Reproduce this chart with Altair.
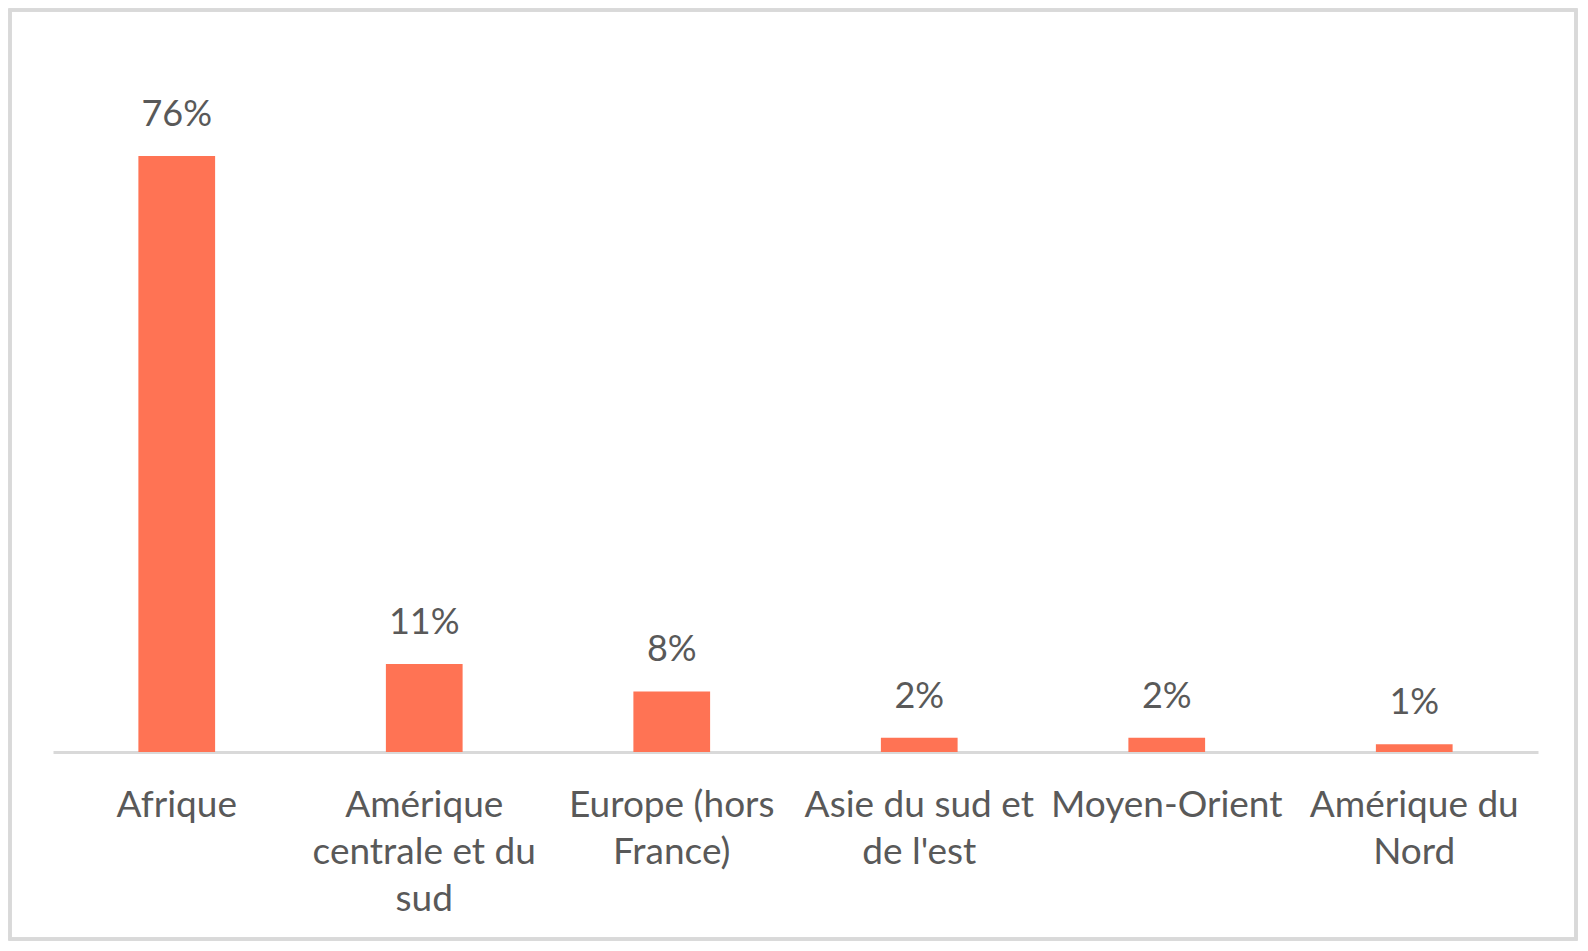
import altair as alt
import pandas as pd

categories = ["Afrique", "Amérique centrale et du sud", "Europe (hors France)",
              "Asie du sud et de l'est", "Moyen-Orient", "Amérique du Nord"]
values = [0.758, 0.112, 0.077, 0.018, 0.018, 0.010]
wrapped = {
    "Afrique": ["Afrique"],
    "Amérique centrale et du sud": ["Amérique", "centrale et du", "sud"],
    "Europe (hors France)": ["Europe (hors", "France)"],
    "Asie du sud et de l'est": ["Asie du sud et", "de l'est"],
    "Moyen-Orient": ["Moyen-Orient"],
    "Amérique du Nord": ["Amérique du", "Nord"],
}

df = pd.DataFrame({"cat": categories, "val": values})

def js_str(s):
    return "'" + s.replace("\\", "\\\\").replace("'", "\\'") + "'"

expr = "datum.label"
for k, lines in reversed(list(wrapped.items())):
    arr = "[" + ",".join(js_str(l) for l in lines) + "]"
    expr = f"datum.label === {js_str(k)} ? {arr} : ({expr})"

FONT = "Lato"
TXT = "#595959"
W, H = 1485, 629

x = alt.X("cat:N", sort=categories, title=None,
          scale=alt.Scale(paddingInner=0.69, paddingOuter=0.345),
          axis=alt.Axis(labelExpr=expr, labelAngle=0, ticks=False, labelPadding=35,
                        labelFont=FONT, labelFontSize=37, labelColor=TXT,
                        labelLineHeight=47, labelLimit=0,
                        domainColor="#D9D9D9", domainWidth=3, grid=False))
y = alt.Y("val:Q", scale=alt.Scale(domain=[0, 0.8]), axis=None)

bars = alt.Chart(df).mark_bar(color="#FF7354").encode(x=x, y=y)
labels = alt.Chart(df).mark_text(font=FONT, fontSize=36, color=TXT,
                                 baseline="alphabetic", dy=-30).encode(
    x=alt.X("cat:N", sort=categories), y=y,
    text=alt.Text("val:Q", format=".0%"))

frame = alt.Chart(df).mark_rect(fill=None, stroke="#D9D9D9", strokeWidth=3).encode(
    x=alt.value(-43), x2=alt.value(W + 38), y=alt.value(-113), y2=alt.value(H + 187))

chart = alt.layer(frame, bars, labels).properties(
    width=W, height=H,
    background="white",
    autosize=alt.AutoSizeParams(type="none"),
    padding={"left": 45, "top": 115, "right": 40, "bottom": 189},
).configure_view(strokeWidth=0, stroke=None)

chart.save("out.html", embed_options={"renderer": "svg", "actions": False})
